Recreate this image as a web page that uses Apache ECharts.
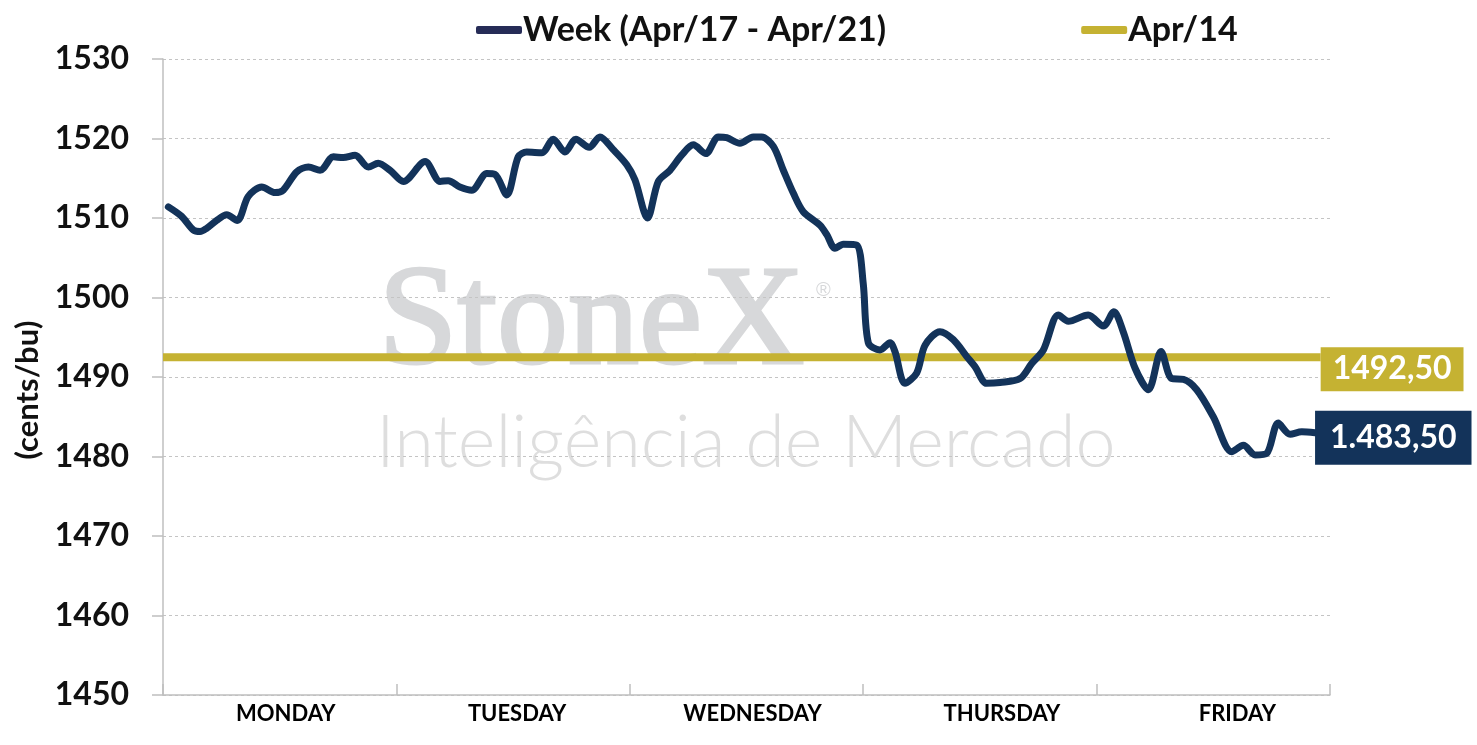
<!DOCTYPE html>
<html>
<head>
<meta charset="utf-8">
<script src="https://cdn.jsdelivr.net/npm/echarts@6/dist/echarts.min.js"></script>
<style>
html,body{margin:0;padding:0;background:#fff;}
#c{width:1477px;height:745px;}
</style>
</head>
<body>
<div id="c"></div>
<script>
const days = ['MONDAY','TUESDAY','WEDNESDAY','THURSDAY','FRIDAY'];
const yTicks = {min:1450, max:1530, step:10};
const weekName = 'Week (Apr/17 - Apr/21)';
const refName = 'Apr/14';
// x position in days (0 = Monday open, 5 = Friday close)
const weekX = [0.023,0.080,0.130,0.159,0.187,0.230,0.273,0.318,0.365,0.423,0.480,0.515,0.573,0.623,0.673,0.730,0.772,0.823,0.880,0.922,0.973,
  1.030,1.123,1.187,1.222,1.272,1.323,1.387,1.422,1.473,1.522,1.558,1.623,1.672,1.722,1.769,1.826,1.872,1.929,1.987,
  2.022,2.076,2.122,2.172,2.222,2.272,2.326,2.379,2.415,2.472,2.529,2.565,2.615,2.658,2.701,2.743,2.815,2.844,2.879,2.915,2.972,
  3.000,3.022,3.072,3.115,3.136,3.179,3.229,3.265,3.329,3.386,3.443,3.479,3.529,3.586,3.672,3.722,3.772,3.836,3.879,3.964,
  4.029,4.074,4.114,4.165,4.222,4.276,4.322,4.372,4.429,4.500,4.579,4.629,4.679,4.729,4.778,4.829,4.879,4.936];
const weekY = [1511.4,1510.2,1508.5,1508.3,1508.7,1509.7,1510.4,1509.7,1512.7,1513.9,1513.2,1513.5,1515.8,1516.4,1516.0,1517.7,1517.6,1517.9,1516.4,1516.9,1516.0,
  1514.6,1517.1,1514.6,1514.7,1513.9,1513.5,1515.6,1515.5,1512.9,1517.7,1518.3,1518.2,1519.9,1518.3,1519.9,1518.9,1520.2,1518.6,1516.7,
  1514.8,1510.0,1514.6,1516.0,1517.9,1519.2,1518.1,1520.2,1520.1,1519.4,1520.2,1520.2,1519.0,1516.0,1513.1,1510.8,1509.1,1507.9,1506.2,1506.7,1506.6,
  1501.8,1494.3,1493.4,1494.3,1493.2,1489.2,1490.5,1494.0,1495.7,1494.7,1492.6,1491.3,1489.2,1489.3,1489.8,1491.7,1493.4,1497.8,1497.0,1497.8,
  1496.4,1498.2,1495.7,1491.1,1488.4,1493.2,1489.8,1489.7,1488.4,1485.0,1480.6,1481.4,1480.2,1480.4,1484.2,1482.8,1483.1,1483.0];
const weekClose = 1483.5;   // value printed in the end label
const refValue = 1492.5;
const refX = [0, 4.96];

const NAVY = '#13335a';
const GOLD = '#c5b232';
const FONT = 'Lato';

function fmtPt(v){ // 1483.5 -> 1.483,50
  const s = v.toFixed(2).split('.');
  return s[0].replace(/\B(?=(\d{3})+(?!\d))/g,'.') + ',' + s[1];
}
function fmtPlain(v){ return v.toFixed(2).replace('.', ','); }

const dayShift = [6, 4, 6, 22, 24];
const rich = {};
dayShift.forEach((s,i)=>{ rich['d'+i] = {fontFamily:FONT, fontSize:22, fontWeight:'bold', color:'#000', padding:[0,0,0,s*2]}; });

const chart = echarts.init(document.getElementById('c'), null, {renderer:'canvas'});
chart.setOption({
  animation:false,
  backgroundColor:'#fff',
  textStyle:{fontFamily:FONT},
  legend:{
    left:476, top:13, padding:0, itemWidth:46, itemHeight:8, itemGap:195, icon:'roundRect',
    textStyle:{fontFamily:FONT, fontSize:34, fontWeight:'bold', color:'#111', padding:[0,0,0,-4]},
    data:[{name:weekName, itemStyle:{color:'#262c57'}},{name:refName, itemStyle:{color:GOLD}}]
  },
  grid:{left:163, right:147, top:59, bottom:50},
  graphic:[
    {type:'text', left:377, top:253, z:0, silent:true,
     style:{text:'StoneX', font:'normal 142px "Liberation Serif", "DejaVu Serif", serif', fill:'#d7d8da', stroke:'#d7d8da', lineWidth:3}},
    {type:'text', left:816, top:280, z:0, silent:true,
     style:{text:'®', font:'normal 20px "Liberation Sans", sans-serif', fill:'#d7d8da'}},
    {type:'text', left:376, top:408, z:0, silent:true,
     style:{text:'Inteligência de Mercado', font:'300 72px Lato, "Open Sans", sans-serif', fill:'#dedede'}}
  ],
  xAxis:[
    {type:'category', data:days, boundaryGap:true, position:'bottom',
     axisLine:{lineStyle:{color:'#bfbfbf', width:1.5}},
     axisTick:{length:12, lineStyle:{color:'#bfbfbf', width:1.5}},
     axisLabel:{margin:8, formatter:(v,i)=>'{d'+i+'|'+v+'}', rich:rich},
     splitLine:{show:false}},
    {type:'value', min:0, max:5, interval:1, position:'bottom',
     axisLine:{show:false},
     axisTick:{show:true, inside:true, length:11, lineStyle:{color:'#bfbfbf', width:1.5}},
     axisLabel:{show:false}, splitLine:{show:false}}
  ],
  yAxis:{
    type:'value', min:yTicks.min, max:yTicks.max, interval:yTicks.step,
    name:'(cents/bu)', nameLocation:'middle', nameRotate:90, nameGap:116,
    nameTextStyle:{fontFamily:FONT, fontSize:31, fontWeight:'bold', color:'#111', padding:[0,0,0,-26]},
    axisLine:{show:true, lineStyle:{color:'#bfbfbf', width:1.5}},
    axisTick:{show:true, length:11, lineStyle:{color:'#bfbfbf', width:1.5}},
    axisLabel:{fontFamily:FONT, fontSize:32, fontWeight:'bold', color:'#111', margin:34, formatter:v=>String(v)},
    splitLine:{lineStyle:{color:'#c4c4c4', type:[3,3], width:1}}
  },
  series:[
    {name:refName, type:'line', xAxisIndex:1, symbol:'none', z:3,
     data:refX.map(x=>[x, refValue]),
     lineStyle:{color:GOLD, width:8},
     itemStyle:{color:GOLD},
     endLabel:{show:true, distance:0, offset:[0,12], formatter:p=>fmtPlain(p.value[1]),
       backgroundColor:GOLD, color:'#fff', fontFamily:FONT, fontWeight:'bold', fontSize:32,
       lineHeight:34, padding:[5,12,5,12]}},
    {name:weekName, type:'line', xAxisIndex:1, symbol:'none', smooth:0.3, z:4,
     data:weekX.map((x,i)=>[x, weekY[i]]),
     lineStyle:{color:NAVY, width:7, cap:'round', join:'round'},
     itemStyle:{color:NAVY},
     endLabel:{show:true, distance:0, offset:[0,5], formatter:()=>fmtPt(weekClose),
       backgroundColor:NAVY, color:'#fff', fontFamily:FONT, fontWeight:'bold', fontSize:32,
       lineHeight:34, padding:[10,15,10,15]}}
  ]
});
</script>
</body>
</html>
